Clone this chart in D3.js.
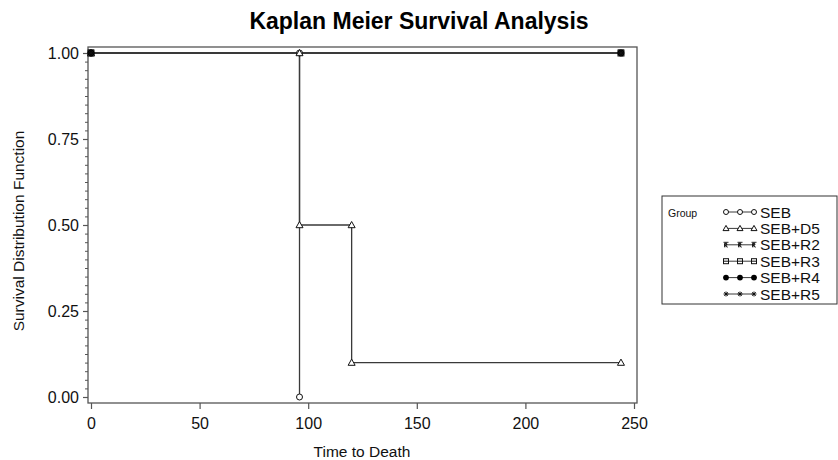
<!DOCTYPE html>
<html>
<head>
<meta charset="utf-8">
<script src="https://cdn.jsdelivr.net/npm/d3@7/dist/d3.min.js"></script>
<style>
  html, body { margin: 0; padding: 0; background: #fff; }
  svg text { font-family: "Liberation Sans", Arial, sans-serif; }
</style>
</head>
<body>
<svg id="chart" width="838" height="460"></svg>
<script>
// Kaplan–Meier step curves: [time, survival] vertices per group
const groups = ["SEB", "SEB+D5", "SEB+R2", "SEB+R3", "SEB+R4", "SEB+R5"];
const symbols = ["circle", "triangle", "tack", "square", "dot", "star"];
const stepsSEB   = [[0, 1], [96, 1], [96, 0]];
const stepsD5    = [[0, 1], [96, 1], [96, 0.5], [120, 0.5], [120, 0.1], [244, 0.1]];
const stepsR2    = [[0, 1], [244, 1]];
const stepsR3    = [[0, 1], [244, 1]];
const stepsR4    = [[0, 1], [244, 1]];
const stepsR5    = [[0, 1], [244, 1]];
const seriesSteps = [stepsSEB, stepsD5, stepsR2, stepsR3, stepsR4, stepsR5];

const xTicks = [0, 50, 100, 150, 200, 250];
const yTicks = [0, 0.25, 0.5, 0.75, 1.0];
const yMinor = d3.range(0, 1.0001, 0.025);

const titleText = "Kaplan Meier Survival Analysis";
const xTitle = "Time to Death";
const yTitle = "Survival Distribution Function";
const legendTitle = "Group";

const svg = d3.select("#chart");
const frame = { left: 88, right: 637, top: 47, bottom: 403 };
const lineColor = "#3a3a3a";
const axisColor = "#555";

const x = d3.scaleLinear().domain([0, 250]).range([91, 634]);
const y = d3.scaleLinear().domain([0, 1]).range([397, 53]);

// title
svg.append("text")
  .attr("x", 419).attr("y", 29)
  .attr("text-anchor", "middle")
  .attr("font-size", 23).attr("font-weight", "bold")
  .attr("fill", "#000")
  .text(titleText);

// plot frame
svg.append("rect")
  .attr("x", frame.left).attr("y", frame.top)
  .attr("width", frame.right - frame.left)
  .attr("height", frame.bottom - frame.top)
  .attr("fill", "none").attr("stroke", axisColor).attr("stroke-width", 1.3);

// y axis (major + minor ticks)
const yAxis = d3.axisLeft(y).tickValues(yTicks).tickFormat(d3.format(".2f"))
  .tickSizeOuter(0).tickSizeInner(5).tickPadding(4);
const yG = svg.append("g").attr("transform", `translate(${frame.left},0)`).call(yAxis);
yG.select(".domain").remove();
yG.selectAll("line").attr("stroke", axisColor).attr("stroke-width", 1.2);
yG.selectAll("text").attr("font-size", 16).attr("fill", "#111");
const yMinorAxis = d3.axisLeft(y).tickValues(yMinor).tickFormat("").tickSizeOuter(0).tickSize(3);
const yMG = svg.append("g").attr("transform", `translate(${frame.left},0)`).call(yMinorAxis);
yMG.select(".domain").remove();
yMG.selectAll("line").attr("stroke", axisColor).attr("stroke-width", 1);

// x axis
const xAxis = d3.axisBottom(x).tickValues(xTicks).tickFormat(d3.format("d"))
  .tickSizeOuter(0).tickSizeInner(6).tickPadding(9);
const xG = svg.append("g").attr("transform", `translate(0,${frame.bottom})`).call(xAxis);
xG.select(".domain").remove();
xG.selectAll("line").attr("stroke", axisColor).attr("stroke-width", 1.2);
xG.selectAll("text").attr("font-size", 16).attr("fill", "#111");

// axis titles
svg.append("text")
  .attr("x", 362).attr("y", 457)
  .attr("text-anchor", "middle").attr("font-size", 15.5).attr("fill", "#111")
  .text(xTitle);
svg.append("text")
  .attr("transform", "translate(24,231) rotate(-90)")
  .attr("text-anchor", "middle").attr("font-size", 15.5).attr("fill", "#111")
  .text(yTitle);

// marker drawing
function drawMarker(g, kind, cx, cy, s) {
  if (kind === "circle") {
    g.append("circle").attr("cx", cx).attr("cy", cy).attr("r", s)
      .attr("fill", "#fff").attr("stroke", "#111").attr("stroke-width", 1);
  } else if (kind === "triangle") {
    g.append("path")
      .attr("d", `M${cx},${cy - s - 0.5}L${cx + s + 0.5},${cy + s - 0.3}L${cx - s - 0.5},${cy + s - 0.3}Z`)
      .attr("fill", "#fff").attr("stroke", "#111").attr("stroke-width", 1);
  } else if (kind === "square") {
    g.append("rect").attr("x", cx - s).attr("y", cy - s).attr("width", 2 * s).attr("height", 2 * s)
      .attr("fill", "#fff").attr("stroke", "#111").attr("stroke-width", 1);
    g.append("line").attr("x1", cx - s).attr("x2", cx + s).attr("y1", cy).attr("y2", cy)
      .attr("stroke", "#111").attr("stroke-width", 1);
  } else if (kind === "dot") {
    g.append("circle").attr("cx", cx).attr("cy", cy).attr("r", s + 0.4).attr("fill", "#000");
  } else if (kind === "star") {
    const p = [];
    for (let k = 0; k < 4; k++) {
      const a = k * Math.PI / 4;
      p.push(`M${cx - s * Math.cos(a)},${cy - s * Math.sin(a)}L${cx + s * Math.cos(a)},${cy + s * Math.sin(a)}`);
    }
    g.append("path").attr("d", p.join("")).attr("stroke", "#111").attr("stroke-width", 1).attr("fill", "none");
  } else if (kind === "tack") {
    g.append("path")
      .attr("d", `M${cx - s},${cy - s}L${cx + s},${cy - s}M${cx},${cy - s}L${cx},${cy + s}` +
        `M${cx - 1.5},${cy + s}L${cx - 1.5},${cy - s + 1}Q${cx + 2},${cy - s + 1} ${cx + 1},${cy}L${cx - 1.5},${cy}L${cx + 1.8},${cy + s}`)
      .attr("stroke", "#111").attr("stroke-width", 0.9).attr("fill", "none");
  }
}

// step curves
const line = d3.line().x(d => x(d[0])).y(d => y(d[1]));
const plotG = svg.append("g");
seriesSteps.forEach(steps => {
  plotG.append("path").datum(steps).attr("d", line)
    .attr("fill", "none").attr("stroke", lineColor).attr("stroke-width", 1.3);
});
seriesSteps.forEach((steps, i) => {
  steps.forEach(d => drawMarker(plotG, symbols[i], x(d[0]), y(d[1]), 3));
});

// legend
const lg = svg.append("g");
lg.append("rect").attr("x", 662).attr("y", 196).attr("width", 175).attr("height", 108)
  .attr("fill", "#fff").attr("stroke", "#333").attr("stroke-width", 1);
lg.append("text").attr("x", 668).attr("y", 217).attr("font-size", 10.5).attr("fill", "#111").text(legendTitle);
groups.forEach((name, i) => {
  const cy = 212 + i * 16.4;
  lg.append("line").attr("x1", 726).attr("x2", 754).attr("y1", cy).attr("y2", cy)
    .attr("stroke", lineColor).attr("stroke-width", 1);
  [726, 740, 754].forEach(cx => drawMarker(lg, symbols[i], cx, cy, 2.5));
  lg.append("text").attr("x", 760).attr("y", cy + 5.5).attr("font-size", 15.5).attr("fill", "#111").text(name);
});
</script>
</body>
</html>
